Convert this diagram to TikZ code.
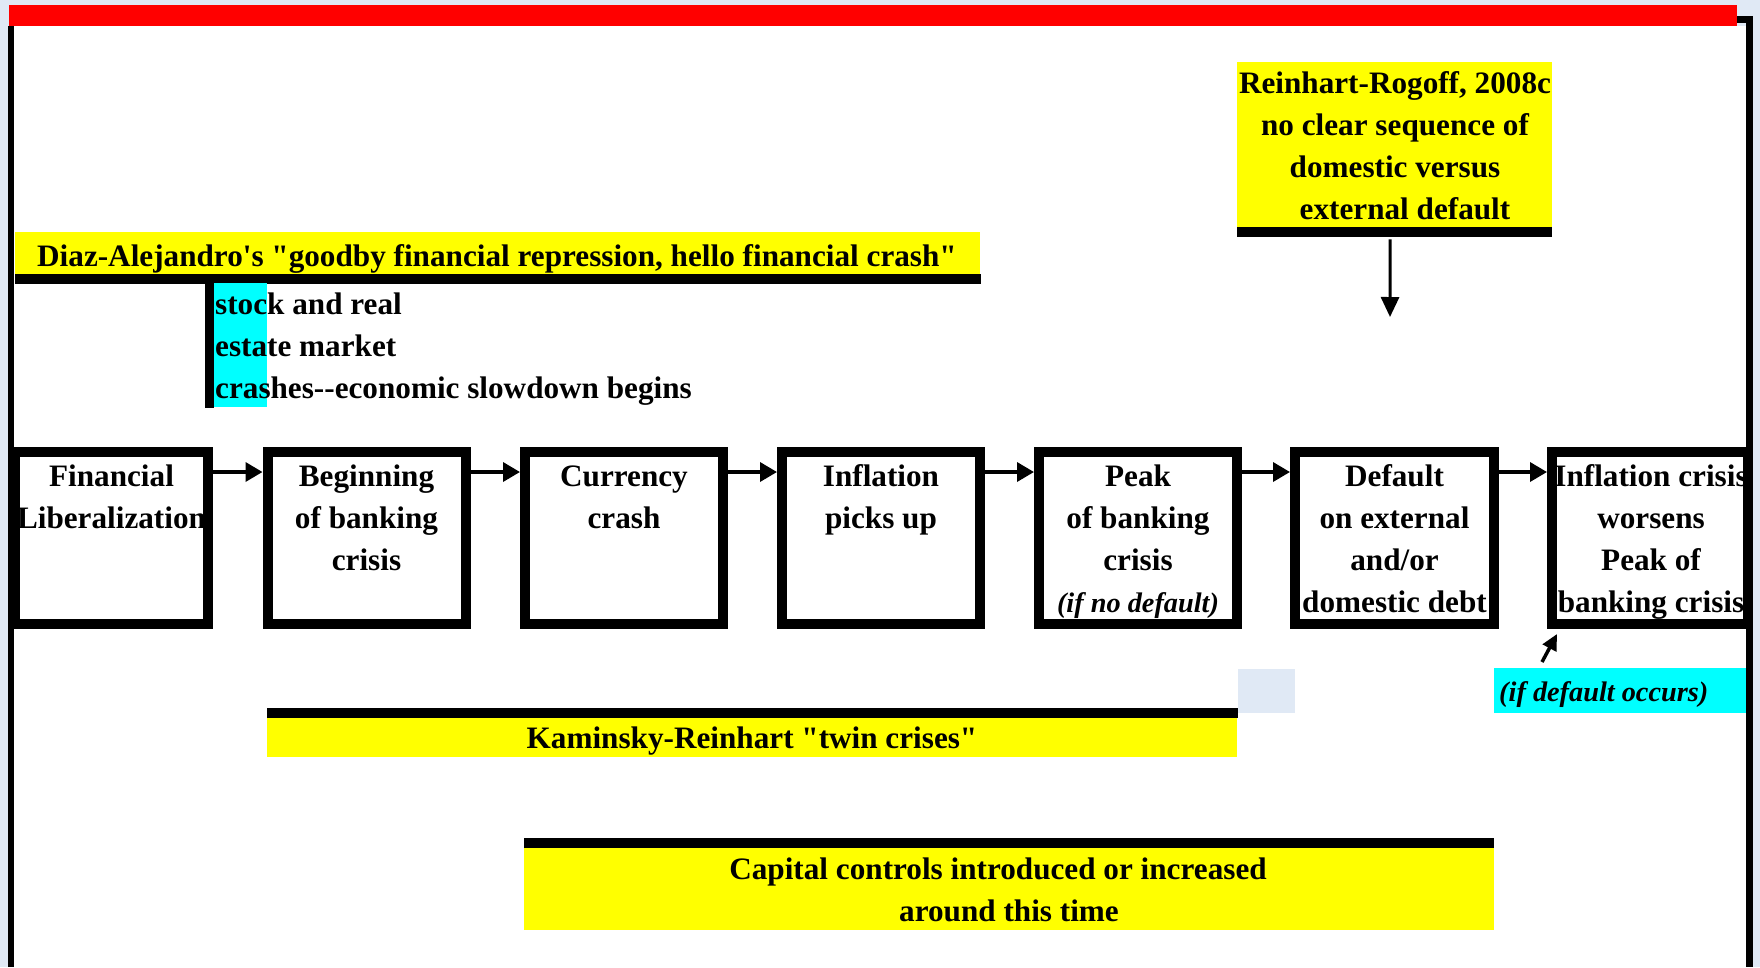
\documentclass[tikz,border=0pt]{standalone}
\usepackage{fontspec}
\newfontfamily\tnr{Liberation Serif}
\usetikzlibrary{arrows.meta}
\definecolor{bgblue}{RGB}{224,233,245}
\definecolor{pureyellow}{RGB}{255,255,0}
\definecolor{purecyan}{RGB}{0,255,255}
\definecolor{purered}{RGB}{255,0,0}
\newcommand{\mystrut}{\rule{0pt}{24pt}}
\newcommand{\smallital}{\fontsize{28.3}{42}\selectfont\itshape}
\begin{document}
\begin{tikzpicture}[x=1pt,y=-1pt,
  fbox/.style={draw=black, line width=10pt, fill=white, minimum height=172pt, minimum width=198pt, inner sep=0pt},
  txt/.style={inner sep=0pt, font=\tnr\fontsize{31.2}{42}\selectfont\bfseries, align=center},
  txtone/.style={inner sep=0pt, font=\tnr\fontsize{31.2}{42}\selectfont\bfseries},
  arr/.style={line width=3.5pt, -{Triangle[length=17pt,width=19pt]}},
  band/.style={inner sep=0pt, anchor=north west},
]
\useasboundingbox (0,0) rectangle (1760,967);
% background and frame
\fill[bgblue] (0,0) rectangle (1760,967);
\fill[white] (14,26) rectangle (1746,967);
\fill[purered] (9,5) rectangle (1737,26);
\fill[black] (8,26) rectangle (14,967);
\fill[black] (1737,16) rectangle (1753,23);
\fill[black] (1746,16) rectangle (1753,967);

% Reinhart-Rogoff box
\node[band, fill=pureyellow, minimum width=315pt, minimum height=165pt] (rr) at (1237,62) {};
\fill[black] (1237,227) rectangle (1552,237);
\node[txt, anchor=north] (rrtext) at (1395,69) {\mystrut Reinhart-Rogoff, 2008c\\no clear sequence of\\domestic versus\\\kern20pt external default};
\coordinate (rrend) at (1390,317);
\draw[line width=3pt, -{Triangle[length=20pt,width=18pt]}] ([xshift=-4.5pt,yshift=-12pt]rr.south) -- (rrend);

% Diaz-Alejandro banner
\node[band, fill=pureyellow, minimum width=965pt, minimum height=42pt] (diaz) at (15,232) {};
\fill[black] (15,274) rectangle (981,284);
\node[txtone, anchor=base west] (diaztext) at (37,266) {Diaz-Alejandro's "goodby financial repression, hello financial crash"};

% stock market note
\fill[black] (205,283) rectangle (214,408);
\fill[purecyan] (214,283) rectangle (267,407);
\node[txt, align=left, anchor=north west] (stock) at (215,290) {\mystrut stock and real\\estate market\\crashes--economic slowdown begins};

% sequence boxes
\node[fbox, minimum width=193pt] (b1) at (111.5,538) {};
\node[fbox] (b2) at (366.5,538) {};
\node[fbox] (b3) at (624,538) {};
\node[fbox] (b4) at (881,538) {};
\node[fbox] (b5) at (1138,538) {};
\node[fbox, minimum width=199pt] (b6) at (1394.5,538) {};
\node[fbox, minimum width=196pt] (b7) at (1650,538) {};

\node[txt, anchor=north] (t1) at ([yshift=-15pt]b1.north) {\mystrut Financial\\Liberalization};
\node[txt, anchor=north] (t2) at ([yshift=-15pt]b2.north) {\mystrut Beginning\\of banking\\crisis};
\node[txt, anchor=north] (t3) at ([yshift=-15pt]b3.north) {\mystrut Currency\\crash};
\node[txt, anchor=north] (t4) at ([yshift=-15pt]b4.north) {\mystrut Inflation\\picks up};
\node[txt, anchor=north] (t5) at ([yshift=-15pt]b5.north) {\mystrut Peak\\of banking\\crisis\\\smallital (if no default)};
\node[txt, anchor=north] (t6) at ([yshift=-15pt]b6.north) {\mystrut Default\\on external\\and/or\\domestic debt};
\node[txt, anchor=north] (t7) at ([yshift=-15pt,xshift=1pt]b7.north) {\mystrut Inflation crisis\\worsens\\Peak of\\banking crisis};

\draw[arr] ([yshift=66pt]b1.east) -- ([yshift=66pt]b2.west);
\draw[arr] ([yshift=66pt]b2.east) -- ([yshift=66pt]b3.west);
\draw[arr] ([yshift=66pt]b3.east) -- ([yshift=66pt]b4.west);
\draw[arr] ([yshift=66pt]b4.east) -- ([yshift=66pt]b5.west);
\draw[arr] ([yshift=66pt]b5.east) -- ([yshift=66pt]b6.west);
\draw[arr] ([yshift=66pt]b6.east) -- ([yshift=66pt]b7.west);

% Kaminsky-Reinhart band
\fill[black] (267,708) rectangle (1238,718);
\node[band, fill=pureyellow, minimum width=970pt, minimum height=39pt] (kr) at (267,718) {};
\node[txtone, anchor=base] (krtext) at (752,748) {Kaminsky-Reinhart "twin crises"};
\fill[bgblue] (1238,669) rectangle (1295,713);

% if default occurs
\node[band, fill=purecyan, minimum width=252pt, minimum height=45pt] (ifd) at (1494,668) {};
\node[txtone, anchor=base west] (ifdtext) at (1499,701) {\smallital (if default occurs)};
\coordinate (sa1) at (1542,662);
\coordinate (sa2) at (1557,634);
\draw[line width=3.5pt, -{Triangle[length=16pt,width=15pt]}] (sa1) -- (sa2);

% capital controls band
\fill[black] (524,838) rectangle (1494,848);
\node[band, fill=pureyellow, minimum width=970pt, minimum height=82pt] (cc) at (524,848) {};
\node[txt, anchor=north] (cctext) at (1009,855) {\mystrut Capital controls introduced or increased\kern22pt\\around this time};
\end{tikzpicture}
\end{document}
